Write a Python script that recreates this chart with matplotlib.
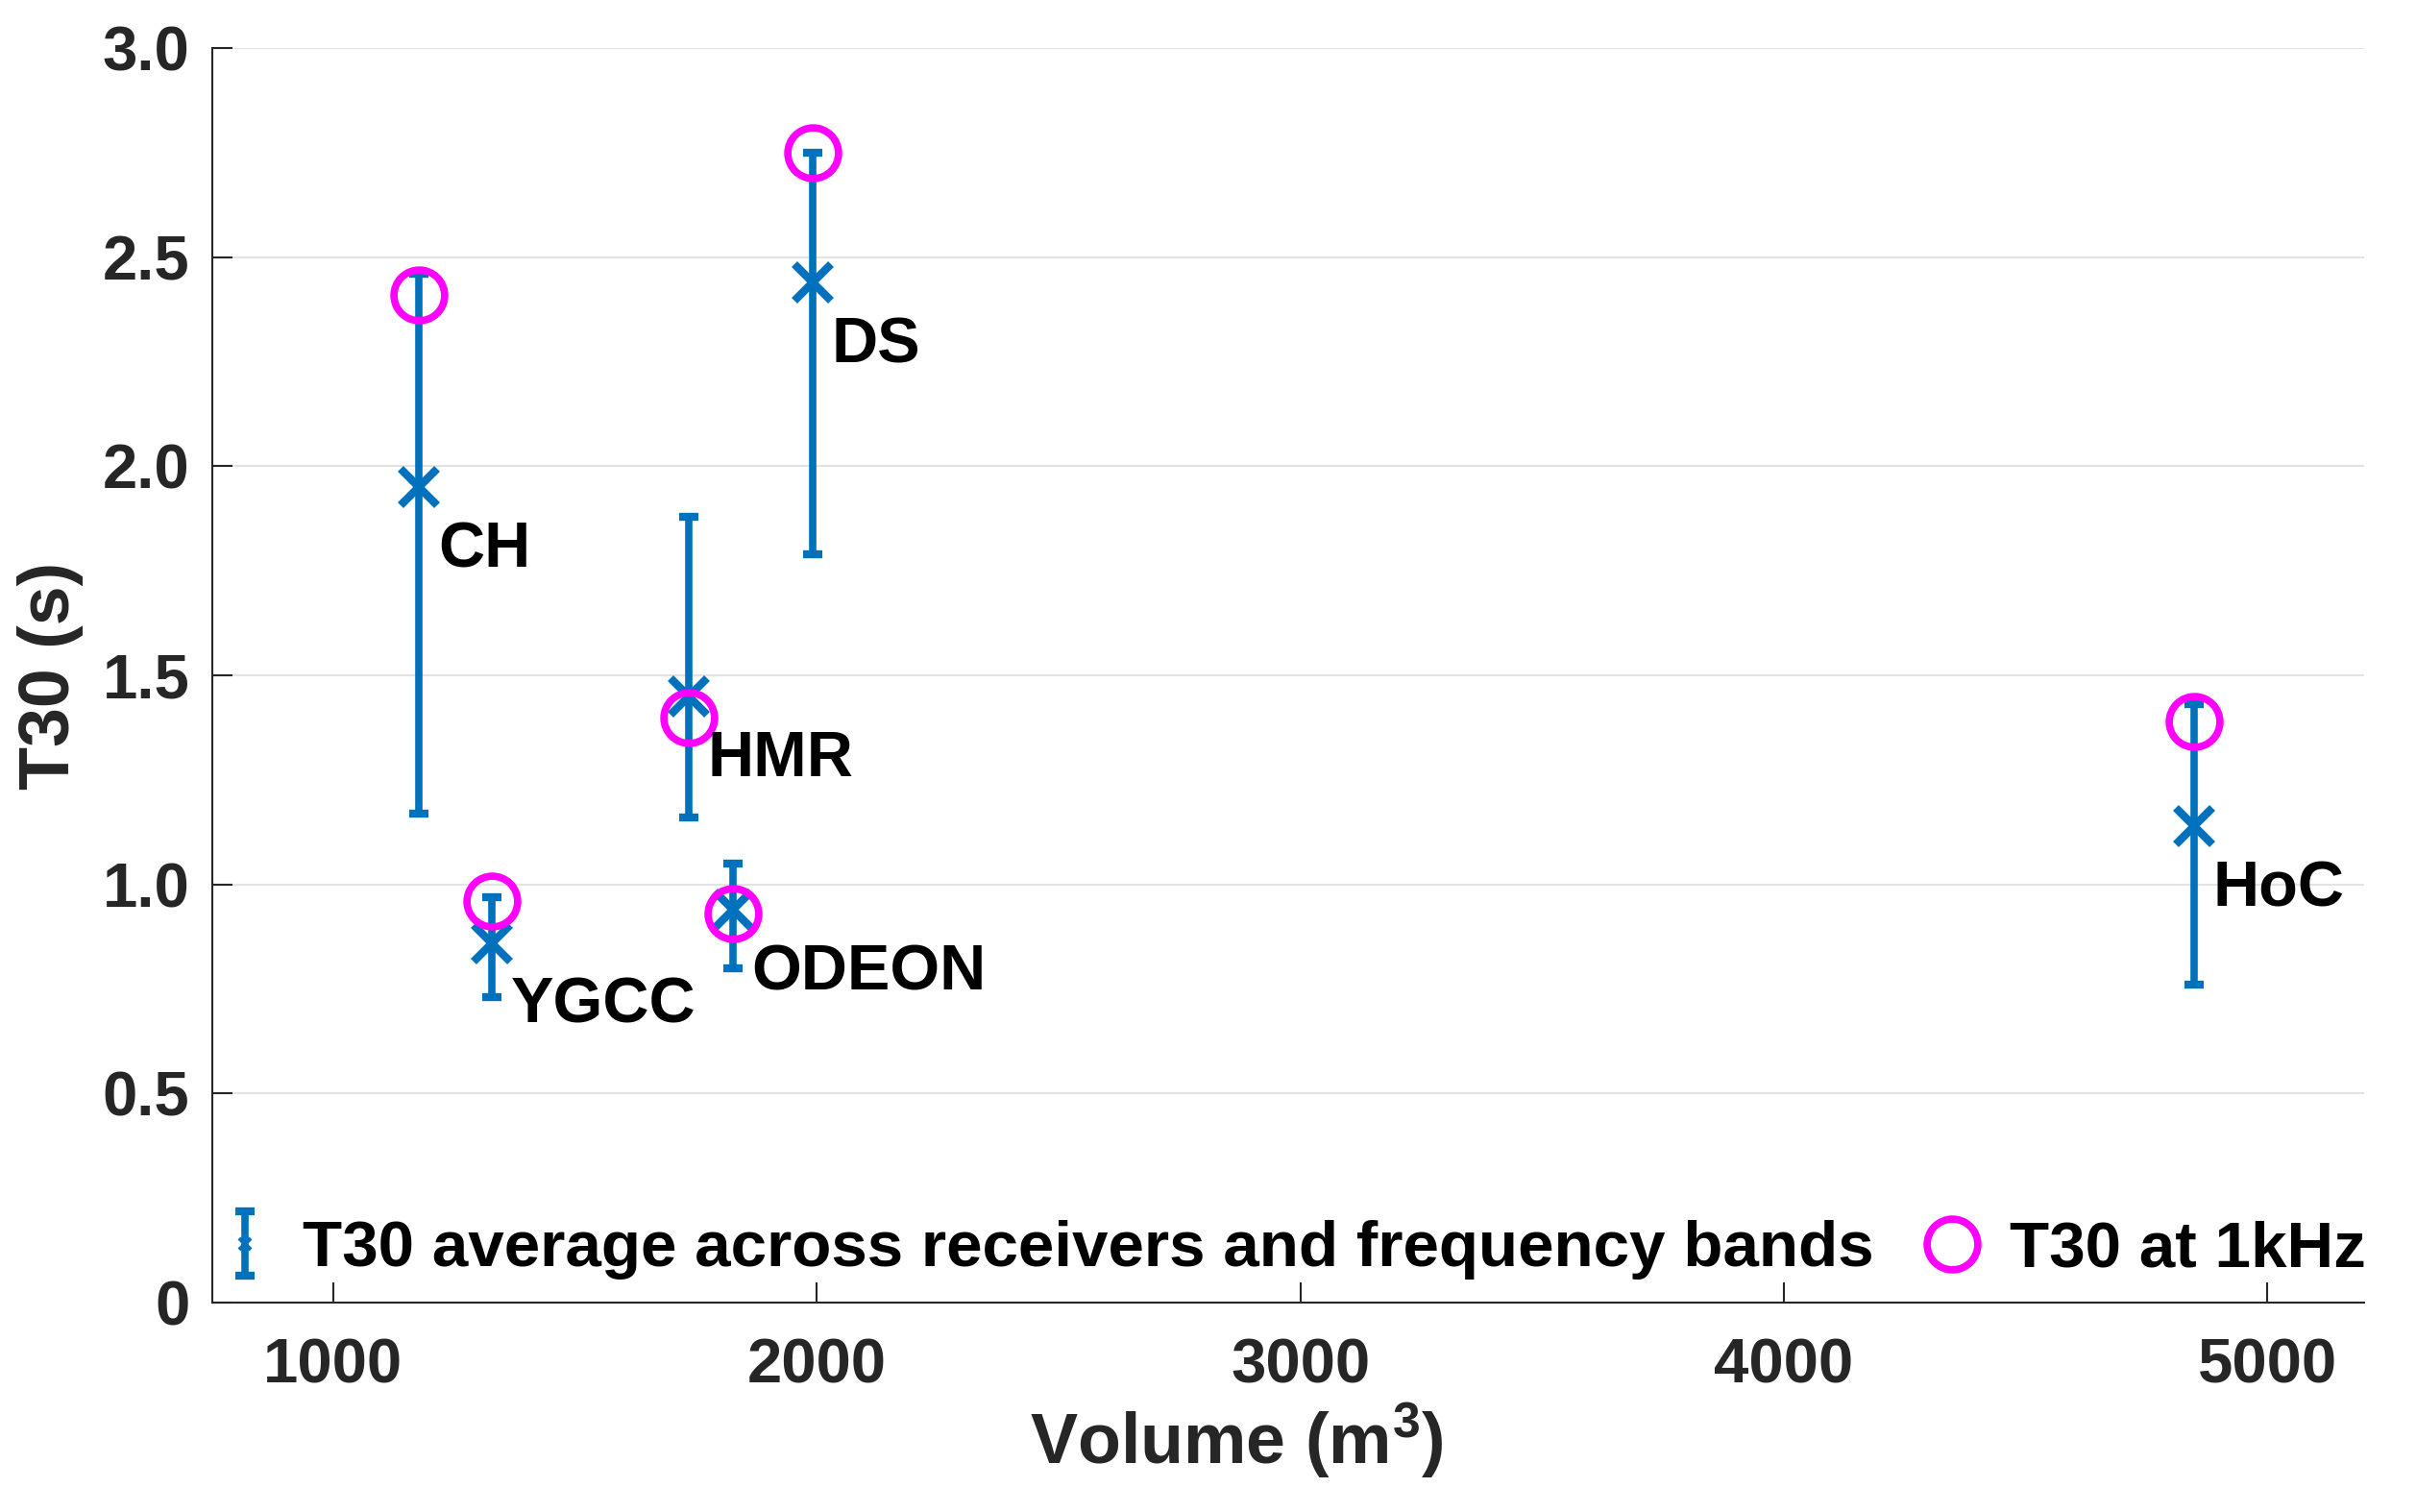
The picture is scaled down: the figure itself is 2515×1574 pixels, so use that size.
import numpy as np
import matplotlib
matplotlib.use("Agg")
from matplotlib import pyplot as plt
from matplotlib.lines import Line2D
from matplotlib.legend_handler import HandlerErrorbar

plt.rcParams['font.family'] = ['Liberation Sans', 'DejaVu Sans']
plt.rcParams['font.weight'] = 'bold'
plt.rcParams['mathtext.fontset'] = 'custom'
plt.rcParams['mathtext.rm'] = 'Liberation Sans:bold'
plt.rcParams['mathtext.default'] = 'rm'

# rooms, volume (m^3), T30 stats (s)
rooms = ['CH', 'YGCC', 'HMR', 'ODEON', 'DS', 'HoC']
volume = [1178, 1328, 1735, 1827, 1992, 4849]
t30_mean = [1.95, 0.86, 1.45, 0.94, 2.44, 1.14]
t30_low = [1.17, 0.73, 1.16, 0.80, 1.79, 0.76]
t30_high = [2.46, 0.97, 1.88, 1.05, 2.75, 1.43]
t30_1k = [2.41, 0.96, 1.40, 0.93, 2.75, 1.39]

x_ticks = [1000, 2000, 3000, 4000, 5000]
y_ticks = [0, 0.5, 1.0, 1.5, 2.0, 2.5, 3.0]
y_tick_labels = ['0', '0.5', '1.0', '1.5', '2.0', '2.5', '3.0']

BLUE = '#0072BD'
MAGENTA = '#FF00FF'
DARK = '#262626'
FS = 47

fig = plt.figure(figsize=(25.15, 15.74), dpi=100)
ax = fig.add_axes([0.0879, 0.1385, 0.8906, 0.8297])

mean = np.array(t30_mean)
yerr = [mean - np.array(t30_low), np.array(t30_high) - mean]
eb = ax.errorbar(volume, mean, yerr=yerr, fmt='x', color=BLUE, ms=27, mew=6,
                 elinewidth=5.5, capsize=7, capthick=5, zorder=3,
                 label='T30 average across receivers and frequency bands')
circ, = ax.plot(volume, t30_1k, 'o', mfc='none', mec=MAGENTA, ms=38, mew=5.5,
                zorder=4, label='T30 at 1kHz')

for name, x, y in zip(rooms, volume, t30_mean):
  ax.annotate(name, (x, y), xytext=(14, -60), textcoords='offset points',
              ha='left', va='baseline', fontsize=48, fontweight='bold',
              color='black', zorder=5)

ax.set_xlim(750, 5200)
ax.set_ylim(0, 3)
ax.set_xticks(x_ticks)
ax.set_xticklabels([str(t) for t in x_ticks])
ax.set_yticks(y_ticks)
ax.set_yticklabels(y_tick_labels)
ax.tick_params(direction='in', length=15, width=1.5, colors=DARK,
               labelsize=FS, labelcolor=DARK)
ax.tick_params(axis='x', pad=26)
ax.tick_params(axis='y', pad=17)
ax.yaxis.grid(True, color='#e3e3e3', linewidth=1.5)
ax.set_axisbelow(True)
for s in ['top', 'right']:
  ax.spines[s].set_visible(False)
for s in ['left', 'bottom']:
  ax.spines[s].set_color(DARK)
  ax.spines[s].set_linewidth(1.5)

ax.set_xlabel('Volume (m$^3$)', fontsize=53, fontweight='bold', color=DARK,
              labelpad=4)
ax.xaxis.label.set_x(0.476)
ax.set_ylabel('T30 (s)', fontsize=53, fontweight='bold', color=DARK,
              labelpad=14)

def small_marker(h, o):
  h.update_from(o)
  if isinstance(h, Line2D) and h.get_marker() == 'x':
    h.set_markersize(9)
    h.set_markeredgewidth(3)

leg = ax.legend(handles=[eb, circ], loc='center left',
                bbox_to_anchor=(0.0, 0.042), ncol=2,
                frameon=False, fontsize=48.5, handlelength=1.0,
                handletextpad=0.4, columnspacing=0.7, borderpad=0,
                borderaxespad=0, numpoints=1,
                handler_map={type(eb): HandlerErrorbar(update_func=small_marker)})
for t in leg.get_texts():
  t.set_color('black')

plt.savefig('out.png', dpi=100)
